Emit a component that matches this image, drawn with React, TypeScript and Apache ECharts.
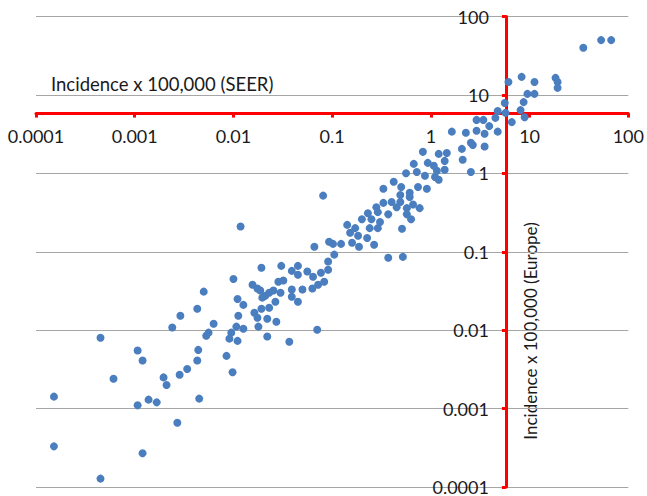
import React, { useEffect, useRef } from "react";
import * as echarts from "echarts";

// Incidence x 100,000 (SEER) — x values
const seerValues: number[] = [
  // lower-left
  0.0029, 0.0024, 0.00045, 0.00107, 0.0012, 0.0034, 0.00285, 0.00196, 0.0021, 0.00061,
  0.000152, 0.00138, 0.00167, 0.00107, 0.0027, 0.000152, 0.0012, 0.00045,
  // 0.004 - 0.1
  0.081, 0.0118, 0.066, 0.093, 0.102, 0.105, 0.091, 0.0192, 0.0305, 0.045,
  0.039, 0.045, 0.056, 0.064, 0.077, 0.091, 0.01, 0.005, 0.0156, 0.0175,
  0.0187, 0.0285, 0.032, 0.039, 0.05, 0.063, 0.072, 0.083, 0.0254, 0.023,
  0.03, 0.021, 0.011, 0.0196, 0.039,
  0.0126, 0.0266, 0.045, 0.0192, 0.023, 0.0043, 0.0112, 0.0163, 0.0175, 0.022,
  0.0272, 0.0063, 0.0107, 0.0126, 0.0179, 0.0056, 0.0053, 0.0095, 0.0091, 0.011,
  0.022, 0.0368, 0.0705, 0.0044, 0.0043, 0.0085, 0.0098, 0.0045,
  // 0.1 - 3
  1.63, 2.26, 2.54, 2.66, 2.06, 0.83, 1.2, 1.45, 2.1, 0.67,
  0.93, 1.07, 1.38, 1.38, 1.15, 0.72, 0.56, 0.87, 1.1, 1.2,
  2.54, 0.42, 0.33, 0.5, 0.74, 0.91, 0.61, 0.49,
  0.61, 0.49, 0.4, 0.33, 0.28, 0.45, 0.57, 0.66, 0.77, 0.23,
  0.29, 0.37, 0.57, 0.63, 0.2, 0.25, 0.305, 0.142, 0.171, 0.24,
  0.29, 0.51, 0.152, 0.183, 0.226, 0.159, 0.187, 0.266, 0.123, 0.37, 0.52,
  // upper-right
  67, 53, 35, 8.3, 6.1, 11.2, 18.3, 19.2, 19.2, 9.5,
  11.2, 8.7, 5.6, 4.75, 5.7, 8.1, 8.9, 6.6, 4.5, 3.9,
  4.75, 3.5, 3.5, 2.9, 3.4, 2.9,
];

// Incidence x 100,000 (Europe) — y values
const europeValues: number[] = [
  0.0153, 0.0108, 0.008, 0.0055, 0.0041, 0.0032, 0.0027, 0.0025, 0.002, 0.0024,
  0.00142, 0.0013, 0.0012, 0.0011, 0.00066, 0.00033, 0.00027, 0.000128,
  0.52, 0.21, 0.116, 0.134, 0.126, 0.092, 0.075, 0.0625, 0.066, 0.066,
  0.057, 0.051, 0.056, 0.048, 0.054, 0.059, 0.045, 0.031, 0.038, 0.034,
  0.032, 0.0415, 0.043, 0.033, 0.033, 0.034, 0.038, 0.0415, 0.032, 0.03,
  0.03, 0.0275, 0.025, 0.026, 0.0267,
  0.021, 0.023, 0.023, 0.0188, 0.0193, 0.0188, 0.0153, 0.0167, 0.0144, 0.014,
  0.0128, 0.0121, 0.0111, 0.0104, 0.0111, 0.0093, 0.0085, 0.0093, 0.0078, 0.0073,
  0.0083, 0.0071, 0.0101, 0.0056, 0.0041, 0.0047, 0.0029, 0.00134,
  3.4, 3.3, 2.45, 2.3, 2.05, 1.88, 1.77, 1.82, 1.49, 1.32,
  1.36, 1.25, 1.44, 1.11, 1.08, 1.04, 1.0, 0.93, 0.9, 0.83,
  1.04, 0.78, 0.635, 0.67, 0.67, 0.635, 0.565, 0.53,
  0.5, 0.43, 0.43, 0.42, 0.37, 0.37, 0.36, 0.4, 0.36, 0.31,
  0.32, 0.3, 0.3, 0.26, 0.26, 0.26, 0.24, 0.22, 0.2, 0.2,
  0.2, 0.196, 0.175, 0.16, 0.15, 0.13, 0.116, 0.123, 0.126, 0.084, 0.086,
  50, 50, 40, 17, 14.6, 14.6, 16.5, 14.6, 12.3, 10.3,
  10.3, 8.1, 7.9, 6.25, 5.9, 6.4, 5.2, 4.5, 5.1, 4.0,
  3.4, 3.2, 2.2, 4.8, 4.8, 3.5,
];

const tickLabels: string[] = ["0.0001", "0.001", "0.01", "0.1", "1", "10", "100"];
const axisMin = 0.0001;
const axisMax = 100;
const crossAt = 5.8;

const xTitle = "Incidence x 100,000 (SEER)";
const yTitle = "Incidence x 100,000 (Europe)";

const W = 647;
const H = 496;
const GRID = { left: 36, right: 17, top: 16.5, bottom: 8.5 };
const FONT = "Lato";
const RED = "#ff0000";
const TEXT = "#1a1a1a";

export default function App() {
  const ref = useRef<HTMLDivElement>(null);

  useEffect(() => {
    document.body.style.margin = "0";
    if (!ref.current) return;
    const chart = echarts.init(ref.current, undefined, { renderer: "svg" });

    const gridW = W - GRID.left - GRID.right;
    const gridH = H - GRID.top - GRID.bottom;
    const span = Math.log10(axisMax) - Math.log10(axisMin);
    const frac = (Math.log10(axisMax) - Math.log10(crossAt)) / span;
    const xAxisOffset = -gridH * frac;
    const yAxisOffset = -gridW * frac;

    const fmt = (v: number) => tickLabels[Math.round(Math.log10(v)) - Math.round(Math.log10(axisMin))] ?? "";

    const data = seerValues.map((x, i) => [x, europeValues[i]]);

    chart.setOption({
      animation: false,
      backgroundColor: "#ffffff",
      grid: { ...GRID, containLabel: false },
      xAxis: {
        type: "log",
        logBase: 10,
        min: axisMin,
        max: axisMax,
        position: "top",
        offset: xAxisOffset,
        axisLine: { show: true, lineStyle: { color: RED, width: 3 } },
        axisTick: { show: true, inside: true, length: 4, lineStyle: { color: RED, width: 3 } },
        axisLabel: {
          inside: true,
          margin: 13,
          fontSize: 18,
          fontFamily: FONT,
          color: TEXT,
          formatter: fmt,
          showMinLabel: true,
          showMaxLabel: true,
        },
        splitLine: { show: false },
      },
      yAxis: {
        type: "log",
        logBase: 10,
        min: axisMin,
        max: axisMax,
        position: "right",
        offset: yAxisOffset,
        axisLine: { show: true, lineStyle: { color: RED, width: 3 } },
        axisTick: { show: true, inside: true, length: 4, lineStyle: { color: RED, width: 3 } },
        axisLabel: {
          inside: true,
          margin: 17,
          fontSize: 18,
          fontFamily: FONT,
          color: TEXT,
          formatter: fmt,
          showMinLabel: true,
          showMaxLabel: true,
        },
        splitLine: { show: true, lineStyle: { color: "#a6a6a6", width: 1 } },
      },
      graphic: [
        {
          type: "text",
          x: 51,
          y: 84,
          style: {
            text: xTitle,
            fontSize: 18.5,
            fontFamily: FONT,
            fill: TEXT,
            align: "left",
            verticalAlign: "middle",
          },
        },
        {
          type: "text",
          x: 530,
          y: 331,
          rotation: Math.PI / 2,
          style: {
            text: yTitle,
            fontSize: 17,
            fontFamily: FONT,
            fill: TEXT,
            align: "center",
            verticalAlign: "middle",
          },
        },
      ],
      series: [
        {
          type: "scatter",
          data,
          symbol: "circle",
          symbolSize: 8,
          itemStyle: { color: "#4a7ebf", opacity: 1 },
          z: 3,
        },
      ],
    });

    return () => chart.dispose();
  }, []);

  return <div ref={ref} style={{ width: W, height: H }} />;
}
